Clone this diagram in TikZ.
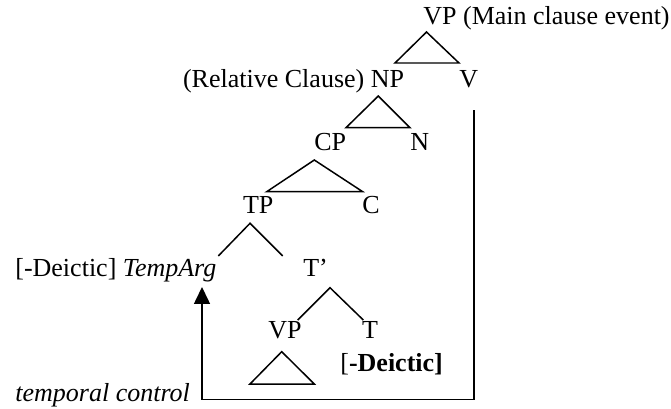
\documentclass[tikz,border=0pt]{standalone}
\usepackage{fontspec}
\setmainfont{Liberation Serif}
\usetikzlibrary{arrows.meta}

\begin{document}
\begin{tikzpicture}[
	lbl/.style={ inner sep=0pt, anchor=base west, font=\fontsize{14.8pt}{17pt}\selectfont },
	roof/.style={ line width=0.85pt, line join=miter },
	ctrl/.style={ line width=0.85pt, -{Triangle[width=0.32cm,length=0.34cm]}, shorten >=2.5pt }
]

\useasboundingbox (0,0) rectangle (13.42,8.16);

\node at (8.46,7.66) (vpTop) [lbl] {VP (Main clause event)};
\draw[roof] (7.9,6.9) -- (8.53,7.52) -- (9.18,6.9) -- cycle;
\node at (3.654,6.41) (npRel) [lbl] {(Relative Clause) NP};
\node at (9.18,6.41) (vRight) [lbl] {V};
\draw[roof] (6.92,5.606) -- (7.566,6.24) -- (8.2,5.606) -- cycle;
\node at (6.28,5.16) (cp) [lbl] {CP};
\node at (8.2,5.16) (n) [lbl] {N};
\draw[roof] (5.334,4.326) -- (6.286,4.96) -- (7.254,4.326) -- cycle;
\node at (4.854,3.90) (tp) [lbl] {TP};
\node at (7.24,3.90) (c) [lbl] {C};
\draw[roof] (4.366,3.04) -- (5.0,3.694) -- (5.654,3.04);
\node at (0.3,2.626) (tempArg) [lbl] {[-Deictic] \textit{TempArg}};
\node at (6.06,2.626) (tbar) [lbl] {T’};
\draw[roof] (5.954,1.76) -- (6.6,2.406) -- (7.266,1.76);
\node at (5.36,1.394) (vpLow) [lbl] {VP};
\node at (7.234,1.394) (t) [lbl] {T};
\node at (6.8,0.726) (deictic) [lbl] {[\textbf{-Deictic]}};
\draw[roof] (5.0,0.48) -- (5.634,1.126) -- (6.286,0.48) -- cycle;
\node at (0.3,0.14) (tempCtrl) [lbl] {\textit{temporal control}};

\coordinate (ctrlTop) at (9.48,5.96);
\coordinate (ctrlLeft) at (4.04,0.174);
\draw[ctrl] (ctrlTop) |- (ctrlLeft) -- (ctrlLeft |- tempArg.south);

\end{tikzpicture}
\end{document}
